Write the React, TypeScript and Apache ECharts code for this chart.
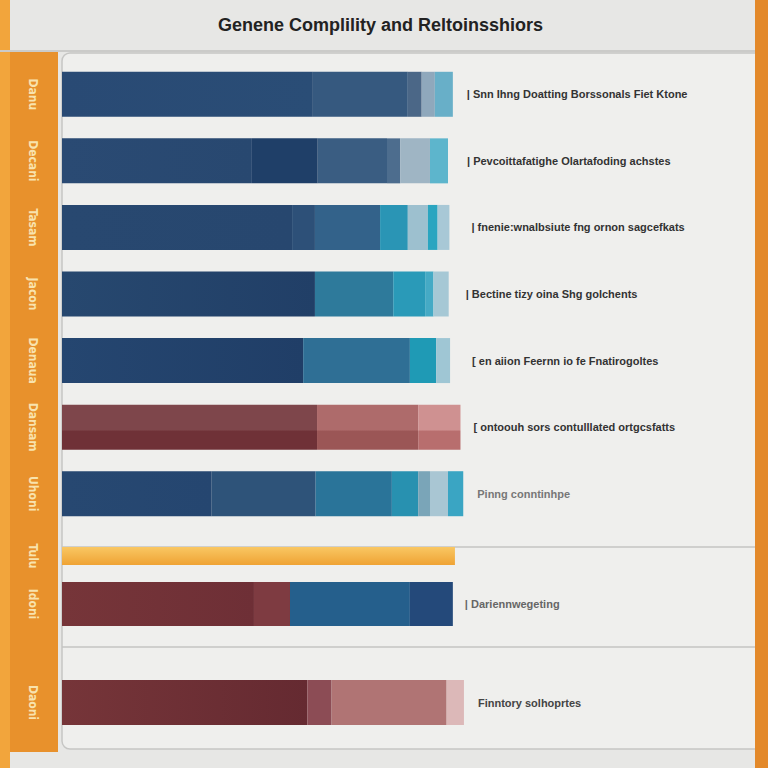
import React, { useEffect, useRef } from "react";
import * as echarts from "echarts";

const titleText = "Genene Complility and Reltoinsshiors";

const leftLabels = ["Danu", "Decani", "Tasam", "Jacon", "Denaua", "Dansam", "Uhoni", "Tulu", "Idoni", "Daoni"];

const notes = [
  "| Snn Ihng Doatting Borssonals Fiet Ktone",
  "| Pevcoittafatighe Olartafoding achstes",
  "| fnenie:wnalbsiute fng ornon sagcefkats",
  "| Bectine tizy oina Shg golchents",
  "[ en aiion Feernn io fe Fnatirogoltes",
  "[ ontoouh sors contulllated ortgcsfatts",
  "Pinng conntinhpe",
  "",
  "| Dariennwegeting",
  "Finntory solhoprtes",
];

// segment values per row (stacked, left to right)
const row1 = [36.2, 13.7, 2.0, 1.9, 2.6];
const row2 = [27.4, 9.5, 10.0, 1.9, 4.3, 2.6];
const row3 = [33.2, 3.3, 9.4, 4.0, 2.9, 1.4, 1.7];
const row4 = [36.5, 11.3, 4.6, 1.2, 2.2];
const row5 = [34.8, 15.4, 3.8, 2.0];
const row6 = [36.8, 14.6, 6.1];
const row7 = [21.6, 15.0, 11.0, 3.8, 1.7, 2.6, 2.2];
const row8 = [56.7];
const row9 = [27.7, 5.2, 17.3, 6.2];
const row10 = [35.4, 3.5, 16.6, 2.5];

const rowValues = [row1, row2, row3, row4, row5, row6, row7, row8, row9, row10];

const hg = (a: string, b: string) => ({
  type: "linear", x: 0, y: 0, x2: 1, y2: 0,
  colorStops: [{ offset: 0, color: a }, { offset: 1, color: b }],
});
const split = (a: string, b: string) => ({
  type: "linear", x: 0, y: 0, x2: 0, y2: 1,
  colorStops: [
    { offset: 0, color: a }, { offset: 0.57, color: a },
    { offset: 0.58, color: b }, { offset: 1, color: b },
  ],
});

const rowColors: any[][] = [
  [hg("#294a74", "#2a4d76"), "#36597f", "#4b6787", "#8fa8bc", "#68afc8"],
  [hg("#2a4a73", "#284870"), "#1f3f68", "#3a5d82", "#4d6d8e", "#9fb5c4", "#5db5cc"],
  [hg("#284870", "#27476f"), "#2d5078", "#33628a", "#2a95b5", "#9dc0cf", "#2aa5c0", "#a8c8d6"],
  [hg("#27486f", "#213f67"), "#2e7a9b", "#2a9ab8", "#45aac5", "#a6c8d5"],
  [hg("#254670", "#203e67"), "#2f6f95", "#1f9ab5", "#9fc6d4"],
  [split("#7e464b", "#6f3137"), split("#ae6b6b", "#9b5656"), split("#cf9191", "#b86e6e")],
  [hg("#274871", "#254670"), "#2e5379", "#2a7499", "#2891b0", "#7aa5b8", "#a9c6d3", "#3aa5c3"],
  [{ type: "linear", x: 0, y: 0, x2: 0, y2: 1, colorStops: [{ offset: 0, color: "#f9c763" }, { offset: 1, color: "#efa334" }] }],
  [hg("#763539", "#6e2f36"), "#7e3b41", "#255f8c", "#24497a"],
  [hg("#763539", "#652a31"), "#8c4c55", "#b07474", "#dcb8b8"],
];

const noteDistance = [14, 19, 22, 17, 22, 13, 14, 0, 12, 14];
const noteColor = ["#333", "#333", "#333", "#333", "#333", "#333", "#777", "#333", "#666", "#444"];

const groups = [
  { rows: [0, 1, 2, 3, 4, 5, 6], top: 61, height: 466, barWidth: 45 },
  { rows: [7], top: 546, height: 20, barWidth: 18 },
  { rows: [8], top: 581, height: 46, barWidth: 44 },
  { rows: [9], top: 680, height: 45, barWidth: 45 },
];

export default function App() {
  const ref = useRef<HTMLDivElement>(null);
  useEffect(() => {
    if (!ref.current) return;
    const chart = echarts.init(ref.current, null, { renderer: "svg" });
    const grid: any[] = [];
    const xAxis: any[] = [];
    const yAxis: any[] = [];
    const series: any[] = [];
    groups.forEach((g, gi) => {
      grid.push({ left: 62, width: 693, top: g.top, height: g.height });
      xAxis.push({ type: "value", gridIndex: gi, min: 0, max: 100, show: false });
      yAxis.push({
        type: "category",
        gridIndex: gi,
        inverse: true,
        data: g.rows.map((r) => leftLabels[r]),
        axisLine: { show: false },
        axisTick: { show: false },
        splitLine: { show: false },
        axisLabel: {
          rotate: -90,
          align: "center",
          verticalAlign: "middle",
          margin: 29,
          color: "#f8e3ae",
          fontSize: 12,
          fontWeight: "bold",
          fontFamily: "DejaVu Sans Condensed",
        },
      });
      const maxSeg = Math.max(...g.rows.map((r) => rowValues[r].length));
      for (let j = 0; j < maxSeg; j++) {
        series.push({
          type: "bar",
          xAxisIndex: gi,
          yAxisIndex: gi,
          stack: "s" + gi,
          barWidth: g.barWidth,
          data: g.rows.map((r) => {
            const v = rowValues[r][j];
            if (v === undefined) return "-";
            const last = j === rowValues[r].length - 1;
            return {
              value: v,
              itemStyle: { color: rowColors[r][j] },
              label: last && notes[r]
                ? {
                    show: true,
                    position: "right",
                    distance: noteDistance[r],
                    formatter: notes[r],
                    color: noteColor[r],
                    fontSize: 11,
                    fontFamily: "Liberation Sans",
                    fontWeight: "bold",
                  }
                : { show: false },
            };
          }),
        });
      }
    });

    chart.setOption({
      animation: false,
      backgroundColor: "#e7e7e5",
      title: {
        text: titleText,
        left: 213,
        top: 11,
        textStyle: { color: "#222", fontSize: 18, fontWeight: "bold", fontFamily: "Liberation Sans" },
      },
      graphic: [
        { type: "rect", z: 0, shape: { x: 0, y: 0, width: 10, height: 768 }, style: { fill: "#f2a53c" } },
        { type: "rect", z: 0, shape: { x: 10, y: 52, width: 48, height: 700 }, style: { fill: "#e8912c" } },
        { type: "line", z: 0, shape: { x1: 0, y1: 51, x2: 755, y2: 51 }, style: { stroke: "#cbcbc9", lineWidth: 2 } },
        {
          type: "rect", z: 0,
          shape: { x: 62, y: 53, width: 700, height: 696, r: [8, 0, 0, 8] },
          style: { fill: "#efefed", stroke: "#c6c6c4", lineWidth: 1.5 },
        },
        { type: "line", z: 0, shape: { x1: 62, y1: 547, x2: 755, y2: 547 }, style: { stroke: "#c4c4c2", lineWidth: 1.5 } },
        { type: "line", z: 0, shape: { x1: 62, y1: 647, x2: 755, y2: 647 }, style: { stroke: "#c4c4c2", lineWidth: 1.5 } },
        { type: "rect", z: 0, shape: { x: 755, y: 0, width: 13, height: 768 }, style: { fill: "#e3892a" } },
      ],
      grid,
      xAxis,
      yAxis,
      series,
    });
    return () => chart.dispose();
  }, []);
  return <div ref={ref} style={{ position: "fixed", left: 0, top: 0, width: 768, height: 768 }} />;
}
